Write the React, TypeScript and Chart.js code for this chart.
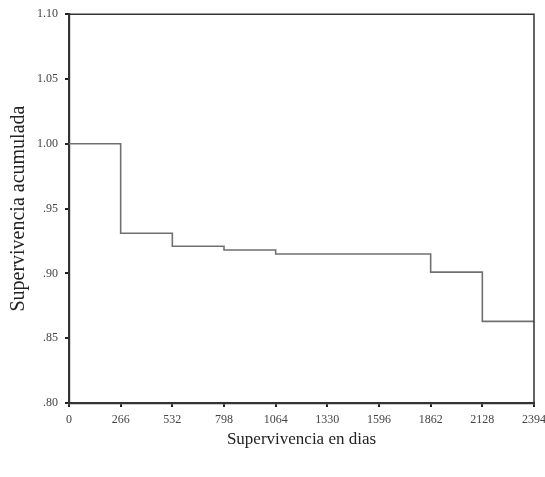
import React, { useEffect, useRef } from "react";
import { Chart, registerables } from "chart.js";

Chart.register(...registerables);

// Survival step data (days, cumulative survival)
const stepDays = [0, 266, 532, 798, 1064, 1862, 2128, 2394];
const survival = [1.0, 0.931, 0.921, 0.918, 0.915, 0.901, 0.863, 0.863];

const xTickValues = [0, 266, 532, 798, 1064, 1330, 1596, 1862, 2128, 2394];
const yTickValues = [0.8, 0.85, 0.9, 0.95, 1.0, 1.05, 1.1];
const yTickLabels = [".80", ".85", ".90", ".95", "1.00", "1.05", "1.10"];

const xTitle = "Supervivencia en dias";
const yTitle = "Supervivencia acumulada";

const frameBox = {
  id: "frameBox",
  afterDraw(chart: any) {
    const { ctx, chartArea } = chart;
    ctx.save();
    ctx.strokeStyle = "#333";
    ctx.lineWidth = 1.5;
    ctx.beginPath();
    ctx.moveTo(chartArea.left, chartArea.top);
    ctx.lineTo(chartArea.right, chartArea.top);
    ctx.lineTo(chartArea.right, chartArea.bottom);
    ctx.stroke();
    ctx.restore();
  },
};

export default function App() {
  const ref = useRef<HTMLCanvasElement>(null);
  useEffect(() => {
    if (!ref.current) return;
    const chart = new Chart(ref.current, {
      type: "line",
      data: {
        datasets: [
          {
            data: stepDays.map((d, i) => ({ x: d, y: survival[i] })),
            stepped: "before",
            borderColor: "#707070",
            borderWidth: 1.6,
            pointRadius: 0,
            fill: false,
          },
        ],
      },
      options: {
        animation: false,
        responsive: false,
        layout: { padding: { left: 0, right: 11, top: 8, bottom: 0 } },
        plugins: { legend: { display: false }, tooltip: { enabled: false } },
        scales: {
          x: {
            type: "linear",
            min: 0,
            max: 2394,
            afterBuildTicks: (s: any) => {
              s.ticks = xTickValues.map((v) => ({ value: v }));
            },
            afterFit: (s: any) => {
              s.height = 74;
              s.paddingLeft = 0;
              s.paddingRight = 0;
            },
            grid: {
              drawOnChartArea: false,
              color: "#222",
              lineWidth: 2,
              tickLength: 4,
            },
            border: { color: "#333", width: 2.2 },
            ticks: {
              autoSkip: false,
              maxRotation: 0,
              padding: 6,
              color: "#444",
              font: { family: "'Liberation Serif', serif", size: 12 },
              callback: (v: any) => String(v),
            },
            title: {
              display: true,
              text: xTitle,
              color: "#222",
              font: { family: "'Liberation Serif', serif", size: 17 },
              padding: { top: 0, bottom: 27 },
            },
          },
          y: {
            type: "linear",
            min: 0.8,
            max: 1.1,
            afterBuildTicks: (s: any) => {
              s.ticks = yTickValues.map((v) => ({ value: v }));
            },
            afterFit: (s: any) => {
              s.width = 69;
            },
            grid: {
              drawOnChartArea: false,
              color: "#222",
              lineWidth: 2,
              tickLength: 4,
            },
            border: { color: "#333", width: 2.2 },
            ticks: {
              padding: 7,
              color: "#444",
              font: { family: "'Liberation Serif', serif", size: 12 },
              callback: (v: any) => {
                const i = yTickValues.findIndex((t) => Math.abs(t - v) < 1e-6);
                return i >= 0 ? yTickLabels[i] : "";
              },
            },
            title: {
              display: true,
              text: yTitle,
              color: "#222",
              font: { family: "'Liberation Serif', serif", size: 20 },
              padding: { top: 7, bottom: 0 },
            },
          },
        },
      },
      plugins: [frameBox],
    });
    return () => chart.destroy();
  }, []);
  return (
    <div style={{ position: "absolute", left: 0, top: 0, width: 545, height: 477, background: "#fff" }}>
      <canvas ref={ref} width={545} height={477} style={{ display: "block" }} />
    </div>
  );
}
